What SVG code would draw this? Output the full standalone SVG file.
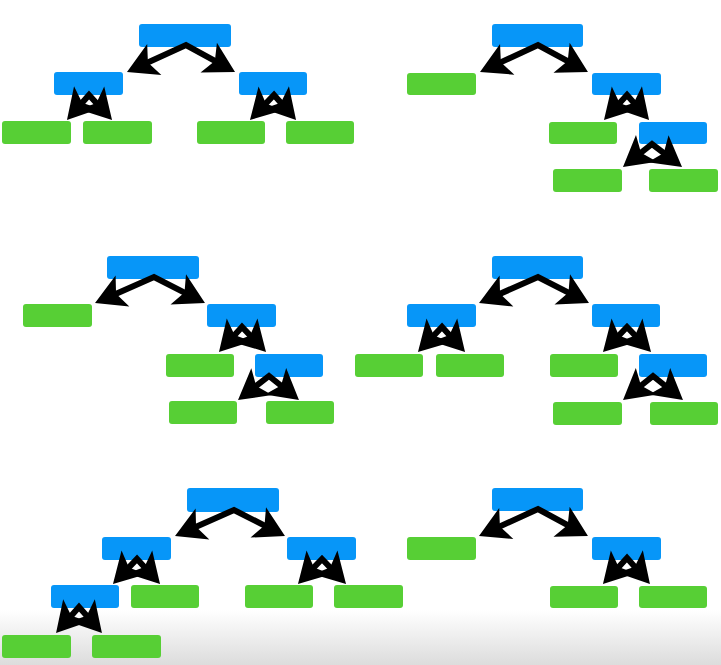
<svg xmlns="http://www.w3.org/2000/svg" width="721" height="665" viewBox="0 0 721 665">
<style>
.b{fill:#0796f8}
.g{fill:#57cf35}
.c{fill:none;stroke:#000;stroke-width:6;stroke-linejoin:miter;marker-start:url(#ah);marker-end:url(#ah)}
</style>
<defs>
<marker id="ah" markerUnits="userSpaceOnUse" orient="auto-start-reverse" viewBox="-25 -25 50 50" markerWidth="50" markerHeight="50" refX="0" refY="0" overflow="visible">
<path d="M12,0 L-18,-17 L-11,0 L-18,17 Z" fill="#000"/>
</marker>
<linearGradient id="bg" x1="0" y1="0" x2="0" y2="1">
<stop offset="0" stop-color="#fff"/>
<stop offset="1" stop-color="#dcdcdc"/>
</linearGradient>
</defs>
<rect width="721" height="665" fill="#fff"/>
<rect y="610" width="721" height="55" fill="url(#bg)"/>

<g id="tree1">
<rect id="t1-root" class="b" x="139" y="24" width="92" height="23" rx="3"/>
<rect id="t1-l" class="b" x="54" y="72" width="69" height="23" rx="3"/>
<rect id="t1-r" class="b" x="239" y="72" width="68" height="23" rx="3"/>
<rect id="t1-ll" class="g" x="2" y="121" width="69" height="23" rx="3"/>
<rect id="t1-lr" class="g" x="83" y="121" width="69" height="23" rx="3"/>
<rect id="t1-rl" class="g" x="197" y="121" width="68" height="23" rx="3"/>
<rect id="t1-rr" class="g" x="286" y="121" width="68" height="23" rx="3"/>
</g>

<g id="tree2">
<rect id="t2-root" class="b" x="492" y="24" width="91" height="23" rx="3"/>
<rect id="t2-l" class="g" x="407" y="73" width="69" height="22" rx="3"/>
<rect id="t2-r" class="b" x="592" y="73" width="69" height="22" rx="3"/>
<rect id="t2-rl" class="g" x="549" y="122" width="68" height="22" rx="3"/>
<rect id="t2-rr" class="b" x="639" y="122" width="68" height="22" rx="3"/>
<rect id="t2-rrl" class="g" x="553" y="169" width="69" height="23" rx="3"/>
<rect id="t2-rrr" class="g" x="649" y="169" width="69" height="23" rx="3"/>
</g>

<g id="tree3">
<rect id="t3-root" class="b" x="107" y="256" width="92" height="23" rx="3"/>
<rect id="t3-l" class="g" x="23" y="304" width="69" height="23" rx="3"/>
<rect id="t3-r" class="b" x="207" y="304" width="69" height="23" rx="3"/>
<rect id="t3-rl" class="g" x="166" y="354" width="68" height="23" rx="3"/>
<rect id="t3-rr" class="b" x="255" y="354" width="68" height="23" rx="3"/>
<rect id="t3-rrl" class="g" x="169" y="401" width="68" height="23" rx="3"/>
<rect id="t3-rrr" class="g" x="266" y="401" width="68" height="23" rx="3"/>
</g>

<g id="tree4">
<rect id="t4-root" class="b" x="492" y="256" width="91" height="23" rx="3"/>
<rect id="t4-l" class="b" x="407" y="304" width="69" height="23" rx="3"/>
<rect id="t4-r" class="b" x="592" y="304" width="68" height="23" rx="3"/>
<rect id="t4-ll" class="g" x="355" y="354" width="68" height="23" rx="3"/>
<rect id="t4-lr" class="g" x="436" y="354" width="68" height="23" rx="3"/>
<rect id="t4-rl" class="g" x="550" y="354" width="68" height="23" rx="3"/>
<rect id="t4-rr" class="b" x="639" y="354" width="68" height="23" rx="3"/>
<rect id="t4-rrl" class="g" x="553" y="402" width="69" height="23" rx="3"/>
<rect id="t4-rrr" class="g" x="650" y="402" width="68" height="23" rx="3"/>
</g>

<g id="tree5">
<rect id="t5-root" class="b" x="187" y="488" width="92" height="24" rx="3"/>
<rect id="t5-l" class="b" x="102" y="537" width="69" height="23" rx="3"/>
<rect id="t5-r" class="b" x="287" y="537" width="69" height="23" rx="3"/>
<rect id="t5-ll" class="b" x="51" y="585" width="68" height="23" rx="3"/>
<rect id="t5-lr" class="g" x="131" y="585" width="68" height="23" rx="3"/>
<rect id="t5-rl" class="g" x="245" y="585" width="68" height="23" rx="3"/>
<rect id="t5-rr" class="g" x="334" y="585" width="69" height="23" rx="3"/>
<rect id="t5-lll" class="g" x="2" y="635" width="69" height="23" rx="3"/>
<rect id="t5-llr" class="g" x="92" y="635" width="69" height="23" rx="3"/>
</g>

<g id="tree6">
<rect id="t6-root" class="b" x="492" y="488" width="91" height="23" rx="3"/>
<rect id="t6-l" class="g" x="407" y="537" width="69" height="23" rx="3"/>
<rect id="t6-r" class="b" x="592" y="537" width="69" height="23" rx="3"/>
<rect id="t6-rl" class="g" x="550" y="586" width="68" height="22" rx="3"/>
<rect id="t6-rr" class="g" x="639" y="586" width="68" height="22" rx="3"/>
</g>

<g id="connectors">
<path class="c" d="M137.9,67 L186,45 L224.5,66.2"/>
<path class="c" d="M74.9,111 L89,95 L103.9,111.2"/>
<path class="c" d="M258.3,111.3 L274,95 L288.1,111"/>

<path class="c" d="M490.9,66.9 L538,45 L577.4,66.3"/>
<path class="c" d="M612.1,111.2 L627,95 L641.1,111"/>
<path class="c" d="M632.4,159.5 L652,144 L672.5,159.7"/>

<path class="c" d="M106,298.2 L154,277 L194.3,297.6"/>
<path class="c" d="M227.1,343.2 L242,327 L257.7,343.3"/>
<path class="c" d="M247.5,392.7 L269,376 L289.6,392.5"/>

<path class="c" d="M490,298.2 L538,277 L578.3,297.6"/>
<path class="c" d="M426.3,343.3 L442,327 L456.9,343.2"/>
<path class="c" d="M611.3,343.3 L627,327 L642.7,343.3"/>
<path class="c" d="M632.4,392.5 L653,376 L673.6,392.5"/>

<path class="c" d="M186,531.2 L234,510 L274.3,530.6"/>
<path class="c" d="M121.3,575.3 L137,559 L151.9,575.2"/>
<path class="c" d="M306.3,575.3 L322,559 L337.7,575.3"/>
<path class="c" d="M64,624 L79,607 L94,624"/>

<path class="c" d="M489.9,531 L538,509 L577.4,530.3"/>
<path class="c" d="M611.1,575.2 L627,558 L642,575"/>
</g>
</svg>
